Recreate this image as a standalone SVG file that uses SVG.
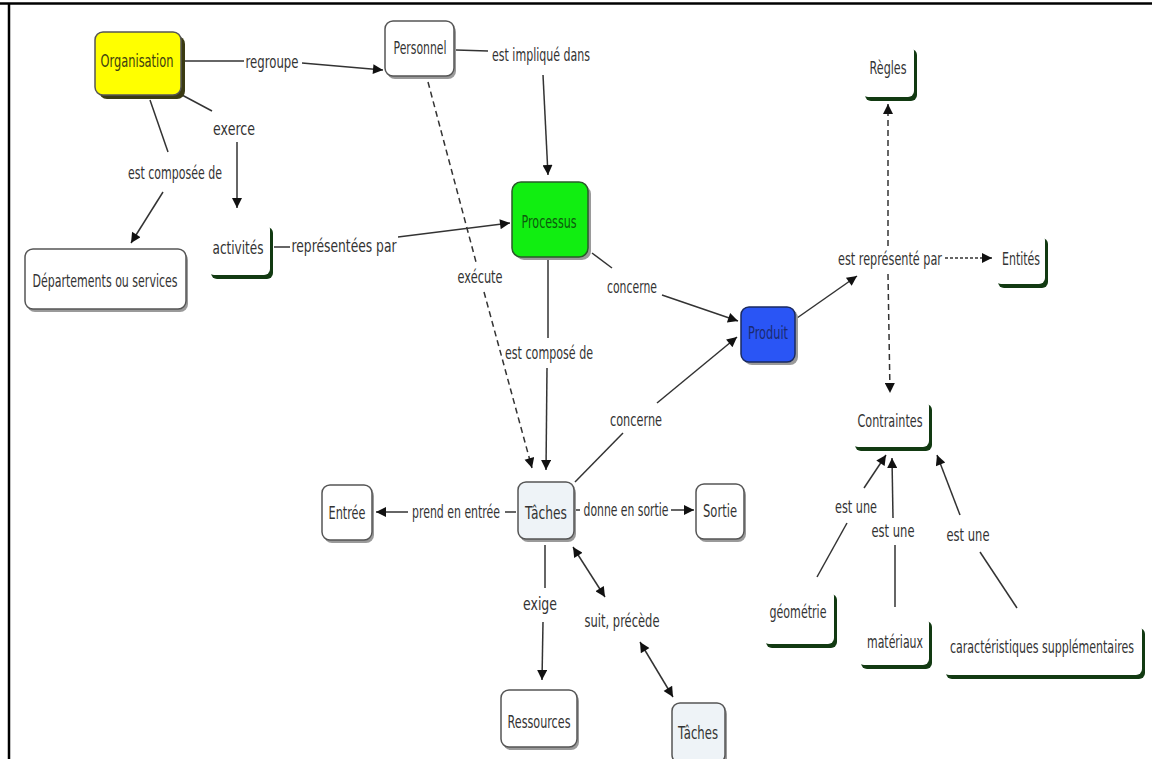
<svg xmlns="http://www.w3.org/2000/svg" width="1152" height="759" viewBox="0 0 1152 759">
<defs>
<marker id="ah" viewBox="0 0 10 10" refX="10" refY="5" markerWidth="12" markerHeight="10" markerUnits="userSpaceOnUse" orient="auto-start-reverse"><path d="M0,0 L10,5 L0,10 z" fill="#111"/></marker>
</defs>
<style>
text{font-family:"DejaVu Sans","Liberation Sans",sans-serif;font-size:17px;fill:#333;text-anchor:middle;dominant-baseline:central}
.ln{fill:none;stroke:#333;stroke-width:1.5}
.arr{marker-end:url(#ah)}
.dash{stroke-dasharray:6,4}
.dot{stroke-dasharray:3,2}
.box{fill:#fff;stroke:#555;stroke-width:1.5}
.shd{fill:#9a9a9a}
.gsh{fill:#123a12}
.wht{fill:#fff}
.lt{fill:#eef3f7;stroke:#555;stroke-width:1.5}
</style>
<rect width="1152" height="759" fill="#fff"/>
<line x1="0" y1="3.5" x2="1152" y2="3.5" stroke="#000" stroke-width="2.5"/>
<line x1="9" y1="3" x2="9" y2="759" stroke="#000" stroke-width="2.5"/>

<g id="connectors">
<path class="ln" d="M182,61 L244,61"/><path class="ln arr" d="M302,63 L383,70"/>
<text transform="translate(272,62) scale(0.64,1)" textLength="82.8" lengthAdjust="spacingAndGlyphs">regroupe</text>
<path class="ln" d="M182,95 L212,111"/><path class="ln arr" d="M237,142 L237,208"/>
<text transform="translate(234,129) scale(0.64,1)" textLength="65.6" lengthAdjust="spacingAndGlyphs">exerce</text>
<path class="ln" d="M150,100 L168,152"/><path class="ln arr" d="M163,192 L131,243"/>
<text transform="translate(175,173) scale(0.64,1)" textLength="146.9" lengthAdjust="spacingAndGlyphs">est composée de</text>
<path class="ln" d="M274,247 L290,247"/><path class="ln arr" d="M398,237 L510,223"/>
<text transform="translate(344,246) scale(0.64,1)" textLength="164.1" lengthAdjust="spacingAndGlyphs">représentées par</text>
<path class="ln" d="M456,50 L488,51"/><path class="ln arr" d="M543,75 L548,175"/>
<text transform="translate(541,55) scale(0.64,1)" textLength="153.1" lengthAdjust="spacingAndGlyphs">est impliqué dans</text>
<path class="ln dash" d="M428,82 L476,262"/><path class="ln dash arr" d="M484,292 L532,468"/>
<text transform="translate(480,277) scale(0.64,1)" textLength="70.3" lengthAdjust="spacingAndGlyphs">exécute</text>
<path class="ln" d="M592,253 L612,268"/><path class="ln arr" d="M662,295 L738,321"/>
<text transform="translate(632,287) scale(0.64,1)" textLength="78.1" lengthAdjust="spacingAndGlyphs">concerne</text>
<path class="ln" d="M548,260 L548,338"/><path class="ln arr" d="M547,368 L546,470"/>
<text transform="translate(549,353) scale(0.64,1)" textLength="137.5" lengthAdjust="spacingAndGlyphs">est composé de</text>
<path class="ln" d="M575,482 L623,433"/><path class="ln arr" d="M657,403 L737,337"/>
<text transform="translate(636,420) scale(0.64,1)" textLength="81.3" lengthAdjust="spacingAndGlyphs">concerne</text>
<path class="ln arr" d="M797,318 L857,276"/>
<text transform="translate(890,259) scale(0.64,1)" textLength="162.5" lengthAdjust="spacingAndGlyphs">est représenté par</text>
<path class="ln dot arr" d="M945,258 L992,258"/>
<path class="ln dash arr" d="M888,246 L888,104"/>
<path class="ln dash arr" d="M888,274 L890,393"/>
<path class="ln" d="M817,577 L847,523"/><path class="ln arr" d="M864,488 L886,455"/>
<text transform="translate(856,507) scale(0.64,1)" textLength="65.6" lengthAdjust="spacingAndGlyphs">est une</text>
<path class="ln" d="M895,607 L895,545"/><path class="ln arr" d="M893,518 L892,458"/>
<text transform="translate(893,531) scale(0.64,1)" textLength="67.2" lengthAdjust="spacingAndGlyphs">est une</text>
<path class="ln" d="M1017,608 L980,552"/><path class="ln arr" d="M960,515 L937,455"/>
<text transform="translate(968,535) scale(0.64,1)" textLength="67.2" lengthAdjust="spacingAndGlyphs">est une</text>
<path class="ln" d="M516,512 L505,512"/><path class="ln arr" d="M408,512 L376,512"/>
<text transform="translate(456,512) scale(0.64,1)" textLength="137.5" lengthAdjust="spacingAndGlyphs">prend en entrée</text>
<path class="ln" d="M576,510 L580,510"/><path class="ln arr" d="M671,510 L694,510"/>
<text transform="translate(626,510) scale(0.64,1)" textLength="132.8" lengthAdjust="spacingAndGlyphs">donne en sortie</text>
<path class="ln" d="M545,545 L545,588"/><path class="ln arr" d="M543,622 L542,680"/>
<text transform="translate(540,604) scale(0.64,1)" textLength="53.1" lengthAdjust="spacingAndGlyphs">exige</text>
<path class="ln arr" style="marker-start:url(#ah)" d="M573,547 L605,597"/>
<path class="ln arr" style="marker-start:url(#ah)" d="M640,642 L673,697"/>
<text transform="translate(622,621) scale(0.64,1)" textLength="117.2" lengthAdjust="spacingAndGlyphs">suit, précède</text>
</g>

<g id="organisation">
<rect x="99" y="36" width="86" height="63" rx="8" fill="#3a3a12"/>
<rect x="95" y="32" width="86" height="63" rx="8" fill="#ffff00" stroke="#555" stroke-width="1.5"/>
<text transform="translate(137,61) scale(0.64,1)" textLength="114.1" lengthAdjust="spacingAndGlyphs" style="fill:#404010">Organisation</text>
</g>
<g id="personnel">
<rect class="shd" x="387" y="24" width="69" height="55" rx="8"/>
<rect class="box" x="385" y="21" width="69" height="55" rx="8"/>
<text transform="translate(420,48) scale(0.64,1)" textLength="82.8" lengthAdjust="spacingAndGlyphs">Personnel</text>
</g>
<g id="departements">
<rect class="shd" x="27" y="252" width="161" height="60" rx="8"/>
<rect class="box" x="25" y="249" width="161" height="60" rx="8"/>
<text transform="translate(105,281) scale(0.64,1)" textLength="226.6" lengthAdjust="spacingAndGlyphs">Départements ou services</text>
</g>
<g id="activites">
<rect class="gsh" x="211" y="227" width="62" height="52" rx="6"/>
<rect class="wht" x="208" y="223" width="62" height="52" rx="6"/>
<text transform="translate(238,248) scale(0.64,1)" textLength="79.7" lengthAdjust="spacingAndGlyphs">activités</text>
</g>
<g id="processus">
<rect class="shd" x="515" y="185" width="76" height="75" rx="9"/>
<rect x="512" y="182" width="76" height="75" rx="9" fill="#11ee11" stroke="#2a5a2a" stroke-width="1.5"/>
<text transform="translate(549,222) scale(0.64,1)" textLength="85.9" lengthAdjust="spacingAndGlyphs" style="fill:#0d5a0d">Processus</text>
</g>
<g id="produit">
<rect class="shd" x="744" y="310" width="54" height="55" rx="8"/>
<rect x="741" y="307" width="54" height="55" rx="8" fill="#2a55f5" stroke="#1a2a60" stroke-width="1.5"/>
<text transform="translate(768,333) scale(0.64,1)" textLength="62.5" lengthAdjust="spacingAndGlyphs" style="fill:#1a2a70">Produit</text>
</g>
<g id="regles">
<rect class="gsh" x="865" y="49" width="52" height="52" rx="6"/>
<rect class="wht" x="862" y="45" width="52" height="52" rx="6"/>
<text transform="translate(888,68) scale(0.64,1)" textLength="57.8" lengthAdjust="spacingAndGlyphs">Règles</text>
</g>
<g id="entites">
<rect class="gsh" x="998" y="238" width="50" height="50" rx="6"/>
<rect class="wht" x="995" y="234" width="50" height="50" rx="6"/>
<text transform="translate(1021,259) scale(0.64,1)" textLength="59.4" lengthAdjust="spacingAndGlyphs">Entités</text>
</g>
<g id="contraintes">
<rect class="gsh" x="855" y="404" width="77" height="47" rx="6"/>
<rect class="wht" x="852" y="400" width="77" height="47" rx="6"/>
<text transform="translate(890,421) scale(0.64,1)" textLength="101.6" lengthAdjust="spacingAndGlyphs">Contraintes</text>
</g>
<g id="geometrie">
<rect class="gsh" x="766" y="594" width="71" height="54" rx="6"/>
<rect class="wht" x="763" y="590" width="71" height="54" rx="6"/>
<text transform="translate(798,612) scale(0.64,1)" textLength="89.1" lengthAdjust="spacingAndGlyphs">géométrie</text>
</g>
<g id="materiaux">
<rect class="gsh" x="861" y="621" width="71" height="48" rx="6"/>
<rect class="wht" x="858" y="617" width="71" height="48" rx="6"/>
<text transform="translate(895,642) scale(0.64,1)" textLength="87.5" lengthAdjust="spacingAndGlyphs">matériaux</text>
</g>
<g id="caracteristiques">
<rect class="gsh" x="946" y="628" width="199" height="51" rx="6"/>
<rect class="wht" x="943" y="624" width="199" height="51" rx="6"/>
<text transform="translate(1042,647) scale(0.64,1)" textLength="287.5" lengthAdjust="spacingAndGlyphs">caractéristiques supplémentaires</text>
</g>
<g id="taches">
<rect class="shd" x="520" y="485" width="56" height="57" rx="8"/>
<rect class="lt" x="518" y="482" width="56" height="57" rx="8"/>
<text transform="translate(546,513) scale(0.64,1)" textLength="65.6" lengthAdjust="spacingAndGlyphs">Tâches</text>
</g>
<g id="entree">
<rect class="shd" x="324" y="488" width="50" height="55" rx="8"/>
<rect class="box" x="322" y="485" width="50" height="55" rx="8"/>
<text transform="translate(347,513) scale(0.64,1)" textLength="57.8" lengthAdjust="spacingAndGlyphs">Entrée</text>
</g>
<g id="sortie">
<rect class="shd" x="698" y="487" width="48" height="55" rx="8"/>
<rect class="box" x="696" y="484" width="48" height="55" rx="8"/>
<text transform="translate(720,511) scale(0.64,1)" textLength="53.1" lengthAdjust="spacingAndGlyphs">Sortie</text>
</g>
<g id="ressources">
<rect class="shd" x="503" y="693" width="76" height="57" rx="8"/>
<rect class="box" x="501" y="690" width="76" height="57" rx="8"/>
<text transform="translate(539,722) scale(0.64,1)" textLength="98.4" lengthAdjust="spacingAndGlyphs">Ressources</text>
</g>
<g id="taches2">
<rect class="shd" x="674" y="706" width="53" height="60" rx="8"/>
<rect class="lt" x="672" y="703" width="53" height="60" rx="8"/>
<text transform="translate(698,733) scale(0.64,1)" textLength="62.5" lengthAdjust="spacingAndGlyphs">Tâches</text>
</g>
</svg>
